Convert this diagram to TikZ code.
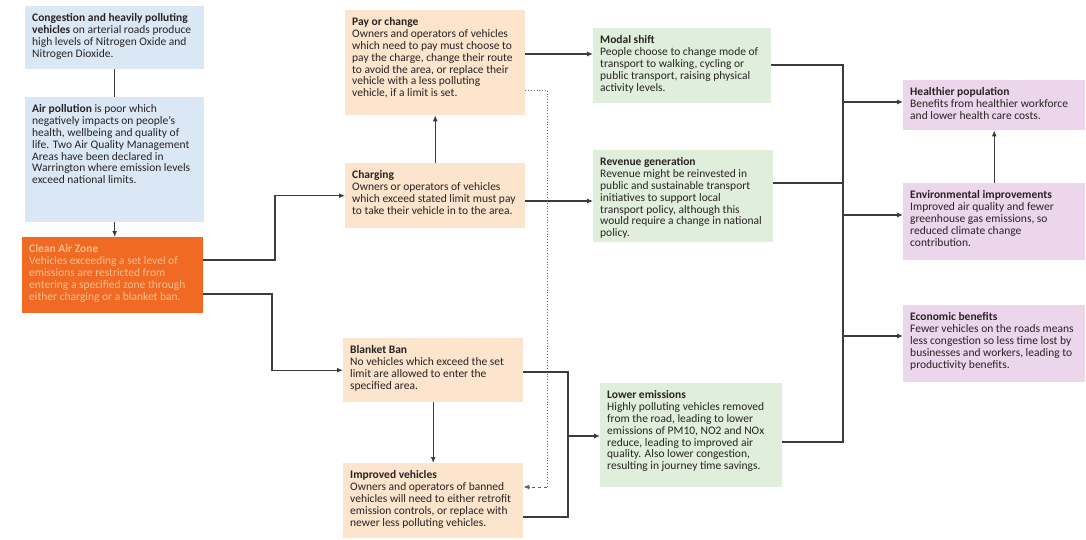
\documentclass[tikz,border=0pt]{standalone}
\usepackage{fontspec}
\setmainfont{Carlito}
\usetikzlibrary{arrows.meta}
\definecolor{bluebg}{RGB}{218,232,245}
\definecolor{cazbg}{RGB}{240,106,36}
\definecolor{caztext}{RGB}{250,190,140}
\definecolor{peachbg}{RGB}{252,228,205}
\definecolor{greenbg}{RGB}{224,239,220}
\definecolor{purplebg}{RGB}{236,214,236}
\definecolor{textc}{RGB}{40,35,35}
\definecolor{linec}{RGB}{60,60,60}
\newcommand\mybx[3]{\parbox[c][#2pt][t]{#1pt}{\vspace*{2.5pt}\begin{tabular}[t]{@{}l@{}}#3\end{tabular}}}
\tikzset{
  bx/.style={anchor=north west, inner xsep=7pt, inner ysep=5pt, text=textc,
    font=\fontsize{11.5}{11.8}\selectfont, align=left},
  ln/.style={draw=linec, line width=1.1pt},
  arr/.style={ln, -{Latex[length=6pt,width=5pt]}},
}
\begin{document}
\begin{tikzpicture}[x=1pt,y=-1pt]
\useasboundingbox (0,0) rectangle (1086,540);
% left column
\node[bx, fill=bluebg] (A) at (25,6) {\mybx{165}{53}{\textbf{Congestion and heavily polluting}\\\textbf{vehicles} on arterial roads produce\\high levels of Nitrogen Oxide and\\Nitrogen Dioxide.}};
\node[bx, fill=bluebg] (B) at (25,97) {\mybx{165}{115}{\textbf{Air pollution} is poor which\\negatively impacts on people’s\\health, wellbeing and quality of\\life. Two Air Quality Management\\Areas have been declared in\\Warrington where emission levels\\exceed national limits.}};
\node[bx, fill=cazbg, text=caztext] (C) at (22,237) {\mybx{167}{66}{\textbf{Clean Air Zone}\\Vehicles exceeding a set level of\\emissions are restricted from\\entering a specified zone through\\either charging or a blanket ban.}};
% middle column
\node[bx, fill=peachbg] (D) at (345,10) {\mybx{166}{95}{\textbf{Pay or change}\\Owners and operators of vehicles\\which need to pay must choose to\\pay the charge, change their route\\to avoid the area, or replace their\\vehicle with a less polluting\\vehicle, if a limit is set.}};
\node[bx, fill=peachbg] (E) at (345,163) {\mybx{166}{55}{\textbf{Charging}\\Owners or operators of vehicles\\which exceed stated limit must pay\\to take their vehicle in to the area.}};
\node[bx, fill=peachbg] (F) at (343,338) {\mybx{166}{54}{\textbf{Blanket Ban}\\No vehicles which exceed the set\\limit are allowed to enter the\\specified area.}};
\node[bx, fill=peachbg] (G) at (343,463) {\mybx{166}{65}{\textbf{Improved vehicles}\\Owners and operators of banned\\vehicles will need to either retrofit\\emission controls, or replace with\\newer less polluting vehicles.}};
% green column
\node[bx, fill=greenbg] (H) at (593,28) {\mybx{164}{65}{\textbf{Modal shift}\\People choose to change mode of\\transport to walking, cycling or\\public transport, raising physical\\activity levels.}};
\node[bx, fill=greenbg] (I) at (593,150) {\mybx{166}{82}{\textbf{Revenue generation}\\Revenue might be reinvested in\\public and sustainable transport\\initiatives to support local\\transport policy, although this\\would require a change in national\\policy.}};
\node[bx, fill=greenbg] (J) at (600,383) {\mybx{168}{94}{\textbf{Lower emissions}\\Highly polluting vehicles removed\\from the road, leading to lower\\emissions of PM10, NO2 and NOx\\reduce, leading to improved air\\quality. Also lower congestion,\\resulting in journey time savings.}};
% purple column
\node[bx, fill=purplebg] (K) at (903,80) {\mybx{168}{40}{\textbf{Healthier population}\\Benefits from healthier workforce\\and lower health care costs.}};
\node[bx, fill=purplebg] (L) at (903,183) {\mybx{168}{67}{\textbf{Environmental improvements}\\Improved air quality and fewer\\greenhouse gas emissions, so\\reduced climate change\\contribution.}};
\node[bx, fill=purplebg] (M) at (903,305) {\mybx{168}{67}{\textbf{Economic benefits}\\Fewer vehicles on the roads means\\less congestion so less time lost by\\businesses and workers, leading to\\productivity benefits.}};
% connectors
\draw[ln] (A.south) -- (A.south |- B.north);
\draw[arr] (B.south) -- (B.south |- C.north);
\draw[arr] (C.east |- 0,260) -- (275,260) |- (E.west);
\draw[arr] (C.east |- 0,294) -- (272,294) |- (F.west);
\draw[arr] (E.north) -- (E.north |- D.south);
\draw[arr] (F.south) -- (F.south |- G.north);
\draw[arr] (D.east |- 0,54) -- (H.west |- 0,54);
\draw[arr] (E.east |- 0,201) -- (I.west |- 0,201);
\draw[draw=linec!80, line width=0.8pt, dotted] (D.east |- 0,90) -- (547,90) -- (547,487);
\draw[arr, draw=linec!80, line width=0.9pt, dashed] (547,487) -- (G.east |- 0,487);
\draw[ln] (F.east |- 0,372) -- (568,372) -- (568,517) -- (G.east |- 0,517);
\draw[arr] (568,436) -- (J.west |- 0,436);
\draw[ln] (H.east |- 0,65) -- (843,65) -- (843,442) -- (J.east |- 0,442);
\draw[ln] (I.east |- 0,183) -- (843,183);
\draw[arr] (843,102) -- (K.west |- 0,102);
\draw[arr] (843,215) -- (L.west |- 0,215);
\draw[arr] (843,336) -- (M.west |- 0,336);
\draw[arr] (L.north) -- (L.north |- K.south);
\end{tikzpicture}
\end{document}
